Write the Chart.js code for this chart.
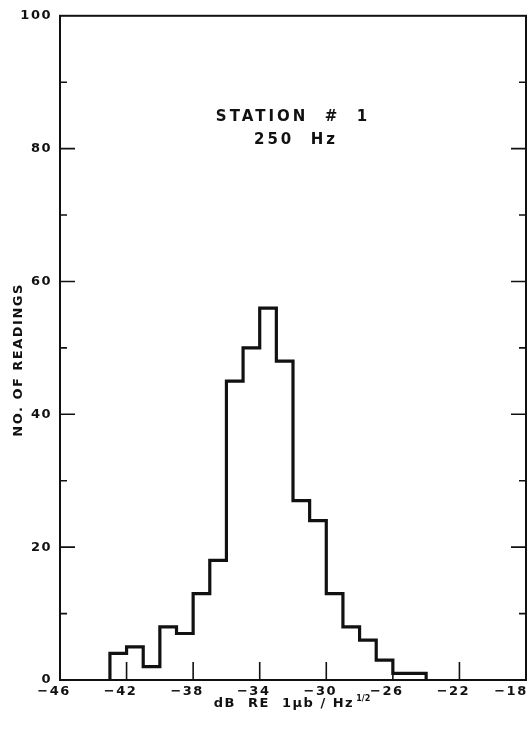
<!DOCTYPE html>
<html>
<head>
<meta charset="utf-8">
<script src="https://cdn.jsdelivr.net/npm/chart.js@4.4.1/dist/chart.umd.min.js"></script>
<style>
  html, body { margin: 0; padding: 0; background: #fff; }
  canvas { display: block; }
</style>
</head>
<body>
<canvas id="c" width="530" height="732"></canvas>
<script>
// ---- data ----
const binStarts = [-43, -42, -41, -40, -39, -38, -37, -36, -35, -34, -33, -32, -31, -30, -29, -28, -27, -26, -25];
const counts    = [  4,   5,   2,   8,   7,  13,  18,  45,  50,  56,  48,  27,  24,  13,   8,   6,   3,   1,   1];
const binWidth = 1;
const xTickValues = [-46, -42, -38, -34, -30, -26, -22, -18];
const yTickLabels = [0, 20, 40, 60, 80, 100];
const titleLines = ['STATION  #  1', '250  Hz'];
const xTitle = 'dB  RE  1\u03BCb / Hz   ';
const xTitleSup = '1/2';
const yTitle = 'NO. OF READINGS    ';

// build step outline points from the bins
const pts = [{ x: binStarts[0], y: 0 }];
binStarts.forEach((b, i) => pts.push({ x: b, y: counts[i] }));
pts.push({ x: binStarts[binStarts.length - 1] + binWidth, y: 0 });

const FONT = '"DejaVu Sans", "Liberation Sans", sans-serif';

const decor = {
  id: 'decor',
  beforeDraw(chart) {
    chart.ctx.letterSpacing = '1.5px';
  },
  afterDraw(chart) {
    const { ctx, chartArea: a, scales: { x, y } } = chart;
    ctx.save();
    ctx.strokeStyle = '#111';
    ctx.lineWidth = 2;
    ctx.strokeRect(a.left, a.top, a.right - a.left, a.bottom - a.top);
    // x inward ticks
    ctx.lineWidth = 1.6;
    xTickValues.forEach(v => {
      if (v === x.min || v === x.max) return;
      const px = x.getPixelForValue(v);
      ctx.beginPath();
      ctx.moveTo(px, a.bottom);
      ctx.lineTo(px, a.bottom - 18);
      ctx.stroke();
    });
    // y inward ticks, both sides
    for (let v = y.min + 10; v < y.max; v += 10) {
      const py = y.getPixelForValue(v);
      const len = yTickLabels.includes(v) ? 15 : 7;
      ctx.beginPath();
      ctx.moveTo(a.left, py); ctx.lineTo(a.left + len, py);
      ctx.moveTo(a.right, py); ctx.lineTo(a.right - len, py);
      ctx.stroke();
    }
    // station title inside plot
    ctx.fillStyle = '#111';
    ctx.textAlign = 'center';
    ctx.textBaseline = 'middle';
    ctx.letterSpacing = '3px';
    ctx.font = 'bold 15px ' + FONT;
    const cx = (a.left + a.right) / 2;
    ctx.fillText(titleLines[0], cx, y.getPixelForValue(84.8));
    ctx.fillText(titleLines[1], cx + 3, y.getPixelForValue(81.3));
    // superscript for x title
    ctx.letterSpacing = '1.5px';
    ctx.font = 'bold 13px ' + FONT;
    const full = ctx.measureText(xTitle).width;
    const main = ctx.measureText(xTitle.trimEnd()).width;
    const left = cx - full / 2;
    ctx.font = 'bold 8px ' + FONT;
    ctx.letterSpacing = '0px';
    ctx.textAlign = 'left';
    ctx.fillText(xTitleSup, left + main + 2, 699);
    ctx.restore();
  }
};

new Chart(document.getElementById('c'), {
  type: 'line',
  data: {
    datasets: [{
      data: pts,
      stepped: 'before',
      borderColor: '#111',
      borderWidth: 3.2,
      pointRadius: 0,
      fill: false,
      borderJoinStyle: 'miter',
      tension: 0
    }]
  },
  options: {
    responsive: false,
    animation: false,
    devicePixelRatio: 1,
    layout: { padding: { top: 12, right: 4, left: 0, bottom: 0 } },
    plugins: { legend: { display: false }, tooltip: { enabled: false } },
    scales: {
      x: {
        type: 'linear',
        min: -46, max: -18,
        afterBuildTicks: s => { s.ticks = xTickValues.map(v => ({ value: v })); },
        afterFit: s => { s.height = 52; s.paddingLeft = 0; s.paddingRight = 0; },
        grid: { display: false, drawTicks: false },
        border: { display: false },
        ticks: {
          color: '#111',
          font: { family: FONT, size: 13, weight: 'bold' },
          padding: 4,
          maxRotation: 0,
          autoSkip: false,
          // trailing spaces keep the digits centred on the tick, minus sign hanging left
          callback: v => String(v).replace('-', '\u2212') + (v === -18 ? '     ' : '  ')
        },
        title: {
          display: true,
          text: xTitle,
          color: '#111',
          font: { family: FONT, size: 13, weight: 'bold' },
          padding: { top: 0, bottom: 21 }
        }
      },
      y: {
        min: 0, max: 100,
        afterFit: s => { s.width = 60; },
        grid: { display: false, drawTicks: false },
        border: { display: false },
        ticks: {
          stepSize: 20,
          color: '#111',
          font: { family: FONT, size: 13, weight: 'bold' },
          padding: 8,
          callback: v => yTickLabels.includes(v) ? String(v) : ''
        },
        title: {
          display: true,
          text: yTitle,
          color: '#111',
          font: { family: FONT, size: 13, weight: 'bold' },
          padding: { top: 11, bottom: 0 }
        }
      }
    }
  },
  plugins: [decor]
});
</script>
</body>
</html>
